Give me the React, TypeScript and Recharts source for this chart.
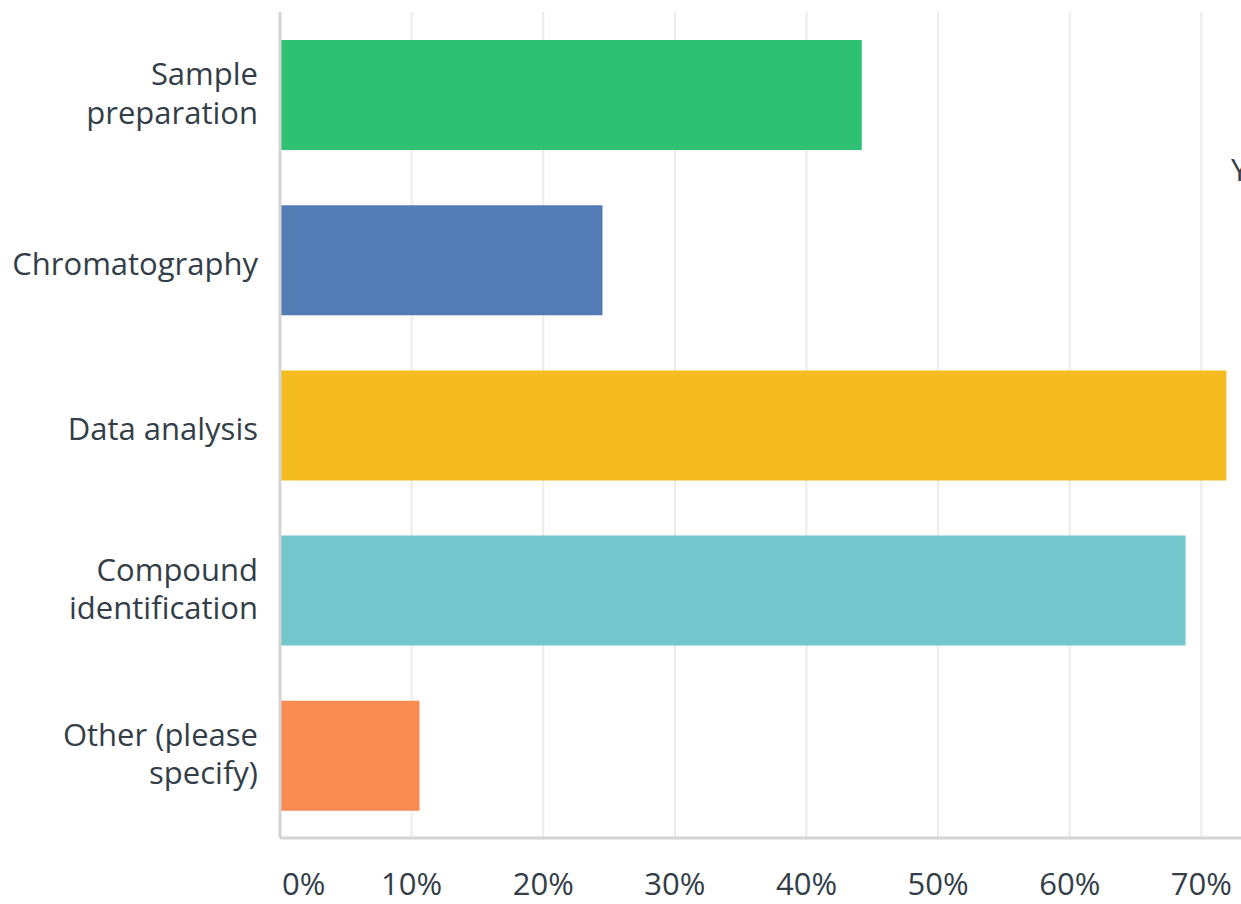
import React from 'react';
import { BarChart, Bar, XAxis, YAxis, CartesianGrid, Cell } from 'recharts';

// Survey answers, share of respondents (%)
const categories = [
  'Sample preparation',
  'Chromatography',
  'Data analysis',
  'Compound identification',
  'Other (please specify)',
];
const percentages = [44.2, 24.5, 71.9, 68.8, 10.6];
const barColors = ['#2EC073', '#537CB4', '#F4BC1F', '#74C6CD', '#F98B52'];

// How each category label wraps on the axis
const categoryLabelLines: string[][] = [
  ['Sample', 'preparation'],
  ['Chromatography'],
  ['Data analysis'],
  ['Compound', 'identification'],
  ['Other (please', 'specify)'],
];

const xTicks = [0, 10, 20, 30, 40, 50, 60, 70];

const data = categories.map((name, i) => ({ name, value: percentages[i] }));

const FONT = '"Open Sans", sans-serif';
const TEXT = '#333E48';
const LINE_STEP = 38.5;

const CategoryTick = (props: any) => {
  const { x, y, index } = props;
  const lines = categoryLabelLines[index] || [String(props.payload?.value ?? '')];
  const first = y + 15 - (lines.length - 1) * 24.5;
  return (
    <text x={x} y={first} textAnchor="end" fill={TEXT} fontFamily={FONT} fontSize={31}>
      {lines.map((line, i) => (
        <tspan key={i} x={x} y={first + i * LINE_STEP}>
          {line}
        </tspan>
      ))}
    </text>
  );
};

const PercentTick = (props: any) => {
  const { x, y, payload } = props;
  const v = payload.value as number;
  return (
    <text
      x={v === 0 ? x + 2 : x}
      y={y + 57}
      textAnchor={v === 0 ? 'start' : 'middle'}
      fill={TEXT}
      fontFamily={FONT}
      fontSize={31}
    >
      {`${v}%`}
    </text>
  );
};

export default function App() {
  return (
    <div
      style={{
        position: 'fixed',
        left: 0,
        top: 0,
        width: 1241,
        height: 904,
        overflow: 'hidden',
        background: '#ffffff',
      }}
    >
      <BarChart
        width={1400}
        height={904}
        layout="vertical"
        data={data}
        margin={{ top: 12, right: 67, bottom: 0, left: 0 }}
      >
        <CartesianGrid horizontal={false} stroke="#EBEBEB" strokeWidth={2} />
        <XAxis
          type="number"
          domain={[0, 80]}
          ticks={xTicks}
          interval={0}
          height={66}
          tickLine={false}
          tickSize={0}
          tickMargin={0}
          axisLine={{ stroke: '#D4D4D4', strokeWidth: 3 }}
          tick={<PercentTick />}
        />
        <YAxis
          type="category"
          dataKey="name"
          width={280}
          interval={0}
          tickLine={false}
          tickSize={0}
          tickMargin={22}
          axisLine={{ stroke: '#D4D4D4', strokeWidth: 3 }}
          tick={<CategoryTick />}
        />
        <Bar dataKey="value" barSize={110} isAnimationActive={false}>
          {data.map((d, i) => (
            <Cell key={d.name} fill={barColors[i]} />
          ))}
        </Bar>
      </BarChart>
      <svg
        width={1241}
        height={904}
        style={{ position: 'absolute', left: 0, top: 0, pointerEvents: 'none' }}
      >
        <text x={1231} y={181} fill={TEXT} fontFamily={FONT} fontSize={31}>
          Y
        </text>
      </svg>
    </div>
  );
}
